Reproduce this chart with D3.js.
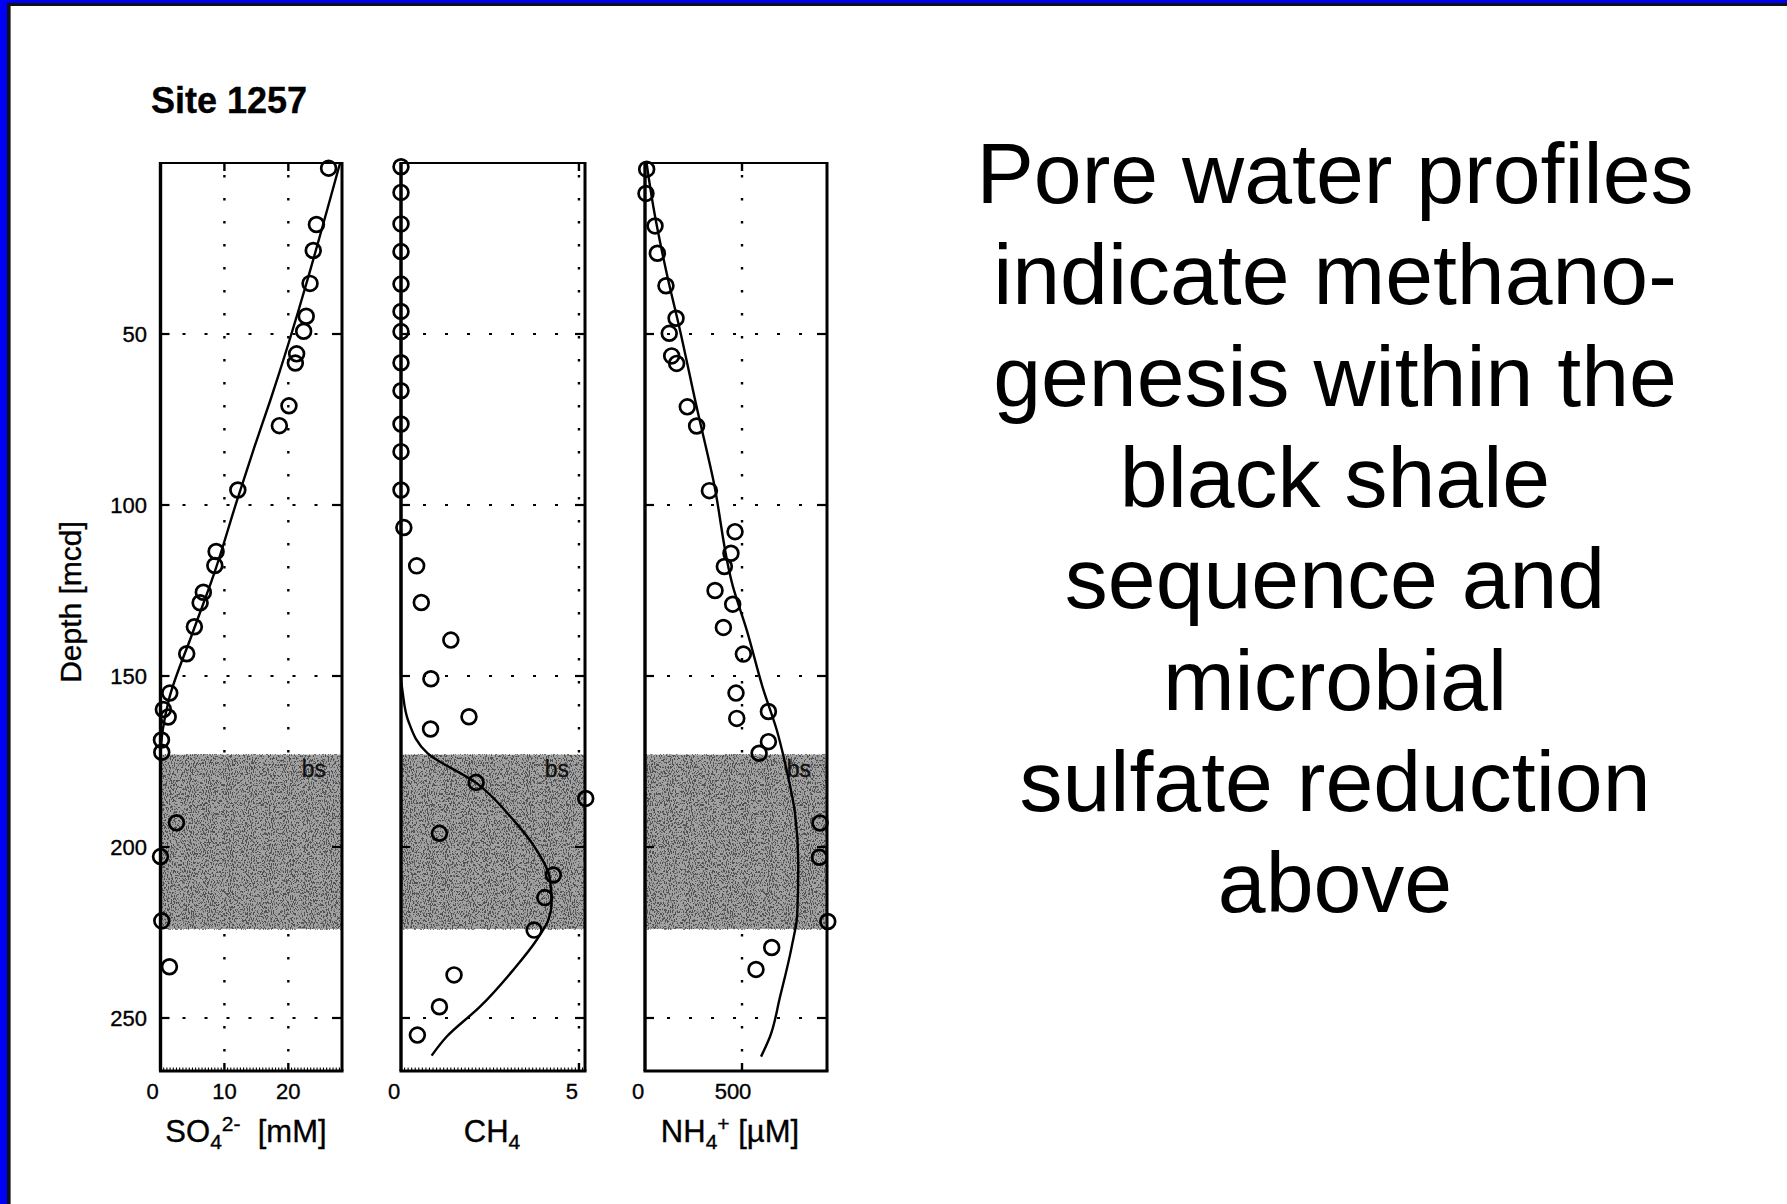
<!DOCTYPE html>
<html>
<head>
<meta charset="utf-8">
<script src="https://cdn.jsdelivr.net/npm/d3@7"></script>
<style>
  body { margin: 0; background: #fff; }
  svg { display: block; }
  text { font-family: "Liberation Sans", Arial, Helvetica, sans-serif; fill: #000; }
  .fig text { stroke: #000; stroke-width: 0.35px; }
</style>
</head>
<body>
<svg id="chart" width="1787" height="1204"></svg>
<script>
// ---- Site 1257 pore water data: depth [mcd] and concentrations ----
const so4Depth = [1.5, 18, 25.6, 35.2, 44.8, 49.2, 55.8, 58.5, 71, 76.8, 95.6, 113.6, 117.7, 125.5, 128.6, 135.6, 143.5, 155, 159.8, 162, 168.7, 172.3, 192.9, 202.8, 221.6, 235];
const so4Value = [26.3, 24.4, 23.9, 23.4, 22.8, 22.4, 21.3, 21.1, 20.1, 18.6, 12.1, 8.7, 8.5, 6.7, 6.2, 5.3, 4.1, 1.45, 0.45, 1.2, 0.15, 0.2, 2.5, 0.0, 0.2, 1.4];
const so4FitDepth = [0, 69.3, 83, 98.5, 120, 137.5, 157, 165.8, 172];
const so4FitValue = [28.1, 17.2, 14.7, 12.0, 8.4, 5.0, 1.3, 0.35, 0];

const ch4Depth = [1.1, 8.6, 17.8, 25.9, 35.4, 43.4, 49.3, 58.4, 66.6, 76.3, 84.4, 95.6, 106.6, 117.8, 128.5, 139.5, 150.8, 161.9, 165.5, 181.1, 185.8, 196, 208.2, 214.8, 224.3, 237.4, 246.7, 255];
const ch4Value = [0, 0, 0, 0, 0, 0, 0, 0, 0, 0, 0, 0, 0.08, 0.44, 0.57, 1.40, 0.84, 1.91, 0.83, 2.11, 5.19, 1.08, 4.28, 4.04, 3.74, 1.49, 1.08, 0.46];
const ch4FitDepth = [0, 150, 155, 163, 172.6, 181.4, 192, 200.9, 209.6, 216.5, 221.3, 227.2, 236, 246.7, 255.5, 261];
const ch4FitValue = [0, 0, 0.05, 0.2, 0.75, 2.13, 3.15, 3.81, 4.19, 4.23, 4.14, 3.81, 3.15, 2.22, 1.28, 0.86];

const nh4Depth = [1.8, 8.9, 18.4, 26.4, 35.9, 45.4, 49.8, 56.4, 58.6, 71.3, 76.9, 95.8, 107.8, 114.1, 118, 125, 129, 135.8, 143.6, 155, 160.4, 162.4, 169.2, 172.6, 193, 203, 221.8, 229.4, 235.8];
const nh4Value = [8.6, 5, 51.5, 63.6, 108, 160, 125, 137.5, 163, 218, 266, 332, 464, 443, 409, 361, 452, 404, 507, 469, 636, 473, 636, 588, 902, 899, 942, 653, 572];
const nh4FitDepth = [0, 12.8, 32.3, 48.8, 71.3, 92.7, 124, 136.5, 154, 165.8, 177.5, 190, 204.8, 219.4, 229.2, 243.8, 255.5, 261.3];
const nh4FitValue = [8, 43, 112, 180, 266, 352, 454, 524, 610, 679, 730, 773, 790, 785, 756, 696, 644, 598];

const depthTicks = [50, 100, 150, 200, 250];
const so4Ticks = [0, 10, 20];
const ch4Ticks = [0, 5];
const nh4Ticks = [0, 500];
const blackShale = [173, 224];   // depth interval of the black shale sequence ("bs")

const noteLines = ["Pore water profiles", "indicate methano-", "genesis within the", "black shale", "sequence and", "microbial", "sulfate reduction", "above"];

// ---- drawing ----
const svg = d3.select("#chart");
const defs = svg.append("defs");

// speckled grey fill used for the black shale interval
const speck = defs.append("filter").attr("id", "speckle")
  .attr("x", 0).attr("y", 0).attr("width", 1).attr("height", 1);
speck.append("feTurbulence").attr("type", "fractalNoise")
  .attr("baseFrequency", "0.95 0.45").attr("numOctaves", 2).attr("seed", 7).attr("result", "noise");
speck.append("feColorMatrix").attr("in", "noise").attr("type", "matrix")
  .attr("values", "0 0 0 0 0  0 0 0 0 0  0 0 0 0 0  -12 0 0 0 5.8");

// slide frame (blue band with black inner rule on the top and left)
svg.append("rect").attr("x", 0).attr("y", 0).attr("width", 1787).attr("height", 1204).attr("fill", "#fff");
svg.append("rect").attr("x", 0).attr("y", 0).attr("width", 7).attr("height", 1204).attr("fill", "#0000f5");
svg.append("rect").attr("x", 0).attr("y", 0).attr("width", 1787).attr("height", 3).attr("fill", "#0000f5");
svg.append("rect").attr("x", 7).attr("y", 3).attr("width", 3.6).attr("height", 1201).attr("fill", "#111");
svg.append("rect").attr("x", 7).attr("y", 3).attr("width", 1780).attr("height", 3).attr("fill", "#111");

const fig = svg.append("g").attr("class", "fig");
const y = d3.scaleLinear().domain([0, 265.5]).range([163, 1071]);

const panels = [
  { id: "so4", range: [160.5, 342], domain: [0, 28.4], depth: so4Depth, value: so4Value,
    fitDepth: so4FitDepth, fitValue: so4FitValue, ticks: so4Ticks, minorStep: 0.5, nudge: [-8, 0, 0] },
  { id: "ch4", range: [401, 585], domain: [0, 5.17], depth: ch4Depth, value: ch4Value,
    fitDepth: ch4FitDepth, fitValue: ch4FitValue, ticks: ch4Ticks, minorStep: 0.1, nudge: [-7, -7] },
  { id: "nh4", range: [645, 827], domain: [0, 938], depth: nh4Depth, value: nh4Value,
    fitDepth: nh4FitDepth, fitValue: nh4FitValue, ticks: nh4Ticks, minorStep: null, nudge: [-7, -9] }
];

panels.forEach(p => {
  const x = d3.scaleLinear().domain(p.domain).range(p.range);
  const g = fig.append("g").attr("class", "panel-" + p.id);
  const xl = x(p.domain[0]), xr = x(p.domain[1]);
  const yt = y(0), yb = y(265.5);
  const grid = p.ticks.filter(v => v > 0);

  // dotted grid
  g.selectAll(".hgrid").data(depthTicks).join("line")
    .attr("x1", xl).attr("x2", xr).attr("y1", d => y(d)).attr("y2", d => y(d))
    .attr("stroke", "#000").attr("stroke-width", 1.8).attr("stroke-dasharray", "3 19");
  g.selectAll(".vgrid").data(grid).join("line")
    .attr("x1", d => x(d)).attr("x2", d => x(d)).attr("y1", yt).attr("y2", yb)
    .attr("stroke", "#000").attr("stroke-width", 2.4).attr("stroke-dasharray", "2.6 20.4")
    .attr("stroke-dashoffset", -12);

  // black shale interval
  g.append("rect").attr("x", xl).attr("y", y(blackShale[0]))
    .attr("width", xr - xl).attr("height", y(blackShale[1]) - y(blackShale[0]))
    .attr("fill", "#a2a2a2");
  g.append("rect").attr("x", xl).attr("y", y(blackShale[0]))
    .attr("width", xr - xl).attr("height", y(blackShale[1]) - y(blackShale[0]))
    .attr("fill", "#000").attr("filter", "url(#speckle)").attr("opacity", 0.5);
  g.append("text").attr("x", xr - 16).attr("y", y(blackShale[0]) + 22)
    .attr("text-anchor", "end").attr("font-size", 23).style("fill", "#111").style("stroke", "#111").text("bs");

  // frame
  g.append("line").attr("x1", xl).attr("x2", xr).attr("y1", yt).attr("y2", yt)
    .attr("stroke", "#000").attr("stroke-width", 2);
  g.append("line").attr("x1", xl - 1.5).attr("x2", xr + 1.5).attr("y1", yb).attr("y2", yb)
    .attr("stroke", "#000").attr("stroke-width", 3);
  g.append("line").attr("x1", xl).attr("x2", xl).attr("y1", yt - 1).attr("y2", yb)
    .attr("stroke", "#000").attr("stroke-width", 3.4);
  g.append("line").attr("x1", xr).attr("x2", xr).attr("y1", yt - 1).attr("y2", yb)
    .attr("stroke", "#000").attr("stroke-width", 3);

  // depth ticks on both sides
  g.selectAll(".ltick").data(depthTicks).join("line")
    .attr("x1", xl).attr("x2", xl + 9).attr("y1", d => y(d)).attr("y2", d => y(d))
    .attr("stroke", "#000").attr("stroke-width", 2.2);
  g.selectAll(".rtick").data(depthTicks).join("line")
    .attr("x1", xr - 10).attr("x2", xr).attr("y1", d => y(d)).attr("y2", d => y(d))
    .attr("stroke", "#000").attr("stroke-width", 2.2);

  // major ticks top and bottom
  g.selectAll(".ttick").data(grid).join("line")
    .attr("x1", d => x(d)).attr("x2", d => x(d)).attr("y1", yt).attr("y2", yt + 8)
    .attr("stroke", "#000").attr("stroke-width", 2.4);
  g.selectAll(".btick").data(grid).join("line")
    .attr("x1", d => x(d)).attr("x2", d => x(d)).attr("y1", yb - 8).attr("y2", yb)
    .attr("stroke", "#000").attr("stroke-width", 2.4);

  // fine ticks along the bottom edge
  if (p.minorStep) {
    const minor = d3.range(p.domain[0] + p.minorStep, p.domain[1], p.minorStep);
    g.selectAll(".mtick").data(minor).join("line")
      .attr("x1", d => x(d)).attr("x2", d => x(d)).attr("y1", yb - 3.5).attr("y2", yb)
      .attr("stroke", "#000").attr("stroke-width", 1.1);
  }

  // x tick labels
  g.selectAll(".xlab").data(p.ticks).join("text")
    .attr("x", (d, i) => x(d) + p.nudge[i]).attr("y", 1099)
    .attr("text-anchor", "middle").attr("font-size", 22).text(d => d);

  // fitted profile
  const fit = p.fitDepth.map((d, i) => [p.fitValue[i], d]);
  g.append("path").datum(fit)
    .attr("d", d3.line().x(d => x(d[0])).y(d => y(d[1])).curve(d3.curveMonotoneY))
    .attr("fill", "none").attr("stroke", "#000").attr("stroke-width", 2.4);

  // measured samples
  g.selectAll(".pt").data(p.depth.map((d, i) => [p.value[i], d])).join("circle")
    .attr("cx", d => x(d[0])).attr("cy", d => y(d[1])).attr("r", 7.4)
    .attr("fill", "none").attr("stroke", "#000").attr("stroke-width", 2.7);
});

// depth axis labels
fig.selectAll(".ylab").data(depthTicks).join("text")
  .attr("x", 147).attr("y", d => y(d)).attr("dy", "0.36em")
  .attr("text-anchor", "end").attr("font-size", 22).text(d => d);

fig.append("text").attr("transform", "translate(81,602) rotate(-90)")
  .attr("text-anchor", "middle").attr("font-size", 30).text("Depth [mcd]");

fig.append("text").attr("x", 151).attr("y", 113)
  .attr("font-size", 36).attr("font-weight", "bold").text("Site 1257");

// axis titles with chemical sub/superscripts
const t1 = fig.append("text").attr("x", 246).attr("y", 1142).attr("text-anchor", "middle").attr("font-size", 31);
t1.append("tspan").text("SO");
t1.append("tspan").attr("font-size", 21).attr("dy", 7).text("4");
t1.append("tspan").attr("font-size", 21).attr("dy", -18).text("2-");
t1.append("tspan").attr("dy", 11).text("\u00a0 [mM]");

const t2 = fig.append("text").attr("x", 492).attr("y", 1142).attr("text-anchor", "middle").attr("font-size", 31);
t2.append("tspan").text("CH");
t2.append("tspan").attr("font-size", 21).attr("dy", 7).text("4");

const t3 = fig.append("text").attr("x", 730).attr("y", 1142).attr("text-anchor", "middle").attr("font-size", 31);
t3.append("tspan").text("NH");
t3.append("tspan").attr("font-size", 21).attr("dy", 7).text("4");
t3.append("tspan").attr("font-size", 21).attr("dy", -18).text("+");
t3.append("tspan").attr("dy", 11).text(" [\u00b5M]");

// explanatory note
svg.append("g").selectAll("text").data(noteLines).join("text")
  .attr("x", 1335).attr("y", (d, i) => 203 + i * 101.3)
  .attr("text-anchor", "middle").attr("font-size", 86).text(d => d);
</script>
</body>
</html>
